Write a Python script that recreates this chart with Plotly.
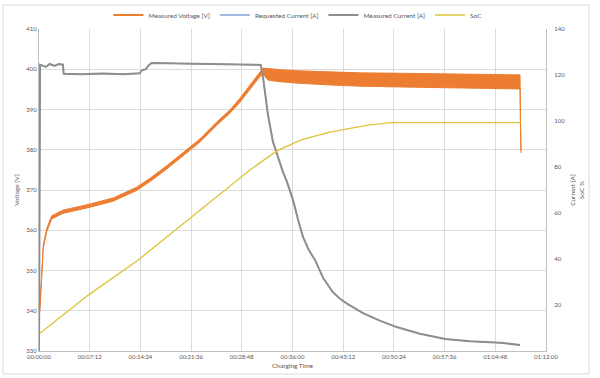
import plotly.graph_objects as go

# ---------------- data ----------------
# time axis in minutes since start of charging
x_tick_vals = [0, 7.2, 14.4, 21.6, 28.8, 36.0, 43.2, 50.4, 57.6, 64.8, 72.0]
x_tick_text = ["00:00:00", "00:07:12", "00:14:24", "00:21:36", "00:28:48", "00:36:00",
               "00:43:12", "00:50:24", "00:57:36", "01:04:48", "01:12:00"]

# Measured voltage: lower / upper envelope of the noisy band [V]
volt_time = [0, 0.14, 0.61, 1.09, 1.8, 3.41, 6.96, 10.51, 13.87, 15.76, 18.13, 20.45,
             22.86, 25.24, 27.12, 28.54, 29.96, 31.38, 31.81, 32.5, 34.23, 37.07, 41.32,
             45.59, 51.27, 56.95, 62.63, 66.89, 68.31, 68.38, 68.45]
volt_low = [337.7, 340.6, 355.6, 359.6, 362.8, 364.2, 365.6, 367.2, 369.9, 372.1, 375.2, 378.6,
            381.9, 386.1, 389.1, 391.8, 395.1, 398.2, 398.8, 397.3, 396.9, 396.5, 396.1,
            395.8, 395.6, 395.4, 395.3, 395.2, 395.1, 385.0, 379.2]
volt_high = [338.3, 341.4, 356.4, 360.4, 363.6, 365.0, 366.4, 368.0, 370.7, 372.9, 376.0, 379.4,
             382.7, 386.9, 389.9, 392.8, 396.1, 399.5, 400.3, 400.2, 399.9, 399.6, 399.3,
             399.1, 399.0, 398.9, 398.8, 398.7, 398.6, 387.0, 379.8]

# Measured current [A]
curr_time = [0, 0.15, 1.0, 1.5, 2.2, 2.8, 3.4, 3.5, 6.0, 9.0, 12.0, 14.3, 14.6, 15.2, 15.5,
             16.0, 20.0, 25.0, 28.0, 31.5, 31.81, 32.52, 33.23, 33.94, 34.65, 35.22, 36.07,
             36.8, 37.49, 38.3, 39.19, 40.4, 41.75, 42.7, 43.74, 46.0, 48.4, 50.8, 54.1, 57.7,
             61.2, 65.5, 68.3]
curr_measured = [0, 124.5, 123.5, 124.8, 124.0, 124.8, 124.5, 120.5, 120.3, 120.6, 120.3, 120.8,
                 122.0, 122.5, 124.0, 125.2, 125.0, 124.8, 124.6, 124.4, 119.1, 102.6, 90.9,
                 83.9, 77.8, 73.5, 65.7, 57.0, 49.6, 44.0, 39.6, 31.5, 25.5, 22.8, 20.6, 16.5,
                 13.2, 10.4, 7.5, 5.2, 4.2, 3.6, 2.6]
# Requested current [A] (hidden beneath the measured current in the reference)
curr_requested = list(curr_measured)

# State of charge [%]
soc_time = [0.14, 7.0, 14.1, 20.5, 25.24, 29.96, 33.76, 35.65, 37.07, 38.91, 41.32, 44.17,
            47.0, 50.13, 68.45]
soc_values = [7.7, 24.3, 39.6, 55.5, 67.1, 78.7, 87.0, 89.8, 91.6, 93.2, 95.2, 96.8,
              98.3, 99.3, 99.3]

y_left_ticks = [330, 340, 350, 360, 370, 380, 390, 400, 410]
y_right_ticks = [20, 40, 60, 80, 100, 120, 140]

# ---------------- styling ----------------
ORANGE = "#ED7D31"
BLUE = "#4472C4"
GRAY = "#8E8E8E"
YELLOW = "#DCC43A"
TEXT = "#595959"
GRID = "#DCDCDC"
FONT = "Lato"

fig = go.Figure()

# legend entry for voltage
fig.add_trace(go.Scatter(x=[None], y=[None], mode="lines", name="Measured Voltage [V]",
                         line=dict(color=ORANGE, width=2)))
# voltage band (primary axis)
fig.add_trace(go.Scatter(x=volt_time, y=volt_low, mode="lines",
                         line=dict(color=ORANGE, width=1), showlegend=False,
                         hoverinfo="skip"))
fig.add_trace(go.Scatter(x=volt_time, y=volt_high, mode="lines", fill="tonexty",
                         fillcolor=ORANGE, line=dict(color=ORANGE, width=1),
                         showlegend=False, name="Measured Voltage [V]"))

# secondary-axis series
fig.add_trace(go.Scatter(x=curr_time, y=curr_requested, mode="lines",
                         name="Requested Current [A]", line=dict(color=BLUE, width=1),
                         yaxis="y2"))
fig.add_trace(go.Scatter(x=curr_time, y=curr_measured, mode="lines",
                         name="Measured Current [A]", line=dict(color=GRAY, width=2),
                         yaxis="y2"))
fig.add_trace(go.Scatter(x=soc_time, y=soc_values, mode="lines", name="SoC",
                         line=dict(color=YELLOW, width=1.3), yaxis="y2"))

L, R, T, B = 39, 54, 29, 27
W, H = 600, 378
pw, ph = W - L - R, H - T - B


def px_to_paper_x(px):
    return (px - L) / pw


def px_to_paper_y(py):
    return (H - B - py) / ph


fig.update_layout(
    width=W, height=H,
    margin=dict(l=L, r=R, t=T, b=B, pad=0, autoexpand=False),
    paper_bgcolor="white", plot_bgcolor="white",
    font=dict(family=FONT, size=6.5, color=TEXT),
    showlegend=True,
    legend=dict(orientation="h", traceorder="normal",
                xref="container", yref="container",
                x=298 / W, xanchor="center",
                y=1 - 15 / H, yanchor="middle",
                font=dict(size=6.5, color=TEXT), itemwidth=30,
                bgcolor="rgba(0,0,0,0)"),
    xaxis=dict(range=[0, 72], tickvals=x_tick_vals, ticktext=x_tick_text,
               showgrid=True, gridcolor=GRID, gridwidth=1, automargin=False,
               showline=True, linecolor="#BFBFBF", linewidth=1,
               ticks="", zeroline=False, tickfont=dict(size=6, color=TEXT),
               title=dict(text="Charging Time", font=dict(size=6.5, color=TEXT), standoff=4)),
    yaxis=dict(range=[330, 410], tickvals=y_left_ticks, automargin=False,
               showgrid=True, gridcolor=GRID, gridwidth=1,
               showline=True, linecolor="#BFBFBF", linewidth=1,
               ticks="", zeroline=False, tickfont=dict(size=6, color=TEXT),
               title=dict(text="Voltage [V]", font=dict(size=6.5, color=TEXT), standoff=6)),
    yaxis2=dict(range=[0, 140], tickvals=y_right_ticks, overlaying="y", side="right",
                showgrid=False, showline=True, linecolor="#BFBFBF", linewidth=1,
                ticks="", zeroline=False, tickfont=dict(size=6, color=TEXT),
                automargin=False, ticklabelstandoff=6,
                title=dict(text="Current [A]<br>SoC %", font=dict(size=6.5, color=TEXT),
                           standoff=6)),
)

# outer chart frame
fig.add_shape(type="rect", xref="paper", yref="paper",
              x0=px_to_paper_x(3), x1=px_to_paper_x(589),
              y0=px_to_paper_y(374), y1=px_to_paper_y(5),
              line=dict(color="#D9D9D9", width=1), fillcolor="rgba(0,0,0,0)", layer="below")

fig.write_html("out.html", config={"displayModeBar": False},
               post_script="document.body.style.margin='0px';document.body.style.overflow='hidden';")
